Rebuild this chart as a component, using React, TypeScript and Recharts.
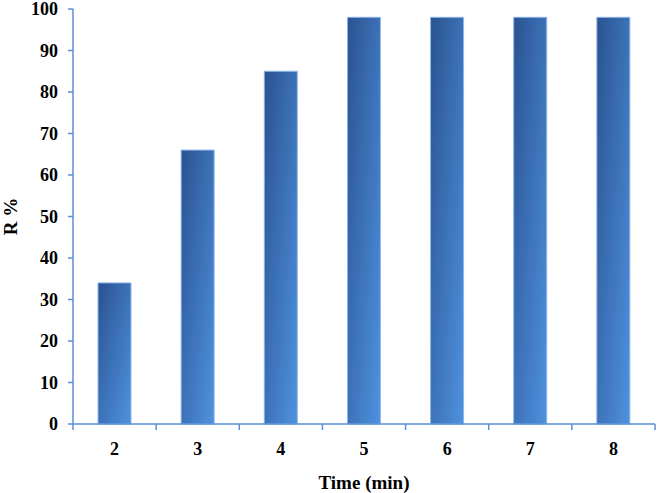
import { BarChart, Bar, XAxis, YAxis, Label } from "recharts";

const times = ["2", "3", "4", "5", "6", "7", "8"];
const removal = [34, 66, 85, 98, 98, 98, 98];
const yTicks = [0, 10, 20, 30, 40, 50, 60, 70, 80, 90, 100];

const data = times.map((t, i) => ({ time: t, r: removal[i] }));

const W = 658;
const H = 493;
const M = { top: 9, right: 3, left: 0, bottom: 0 };
const Y_W = 73;
const AXIS = "#5a8fd6";
const FONT = "'Liberation Serif', 'Times New Roman', serif";
const band = (W - M.left - M.right - Y_W) / times.length;

function TimeTick(props: any) {
  const { x, y, payload, index } = props;
  const last = index === times.length - 1;
  return (
    <g>
      <line x1={x - band / 2} x2={x - band / 2} y1={y - 8} y2={y - 2} stroke={AXIS} strokeWidth={1.5} />
      {last && (
        <line x1={x + band / 2} x2={x + band / 2} y1={y - 8} y2={y - 2} stroke={AXIS} strokeWidth={1.5} />
      )}
      <text x={x} y={y + 23} textAnchor="middle" fontFamily={FONT} fontWeight="bold" fontSize={18} fill="#000">
        {payload.value}
      </text>
    </g>
  );
}

export default function App() {
  return (
    <div style={{ position: "absolute", left: 0, top: 0, background: "#fff" }}>
      <BarChart width={W} height={H} data={data} margin={M} barCategoryGap={0}>
        <defs>
          <linearGradient id="barFill" x1="0" y1="0" x2="1" y2="1">
            <stop offset="0%" stopColor="#2a5290" />
            <stop offset="100%" stopColor="#4f92e0" />
          </linearGradient>
        </defs>
        <XAxis
          dataKey="time"
          height={69}
          axisLine={{ stroke: AXIS, strokeWidth: 1.5 }}
          tickLine={false}
          tick={<TimeTick />}
          interval={0}
        >
          <Label
            value="Time (min)"
            position="insideBottom"
            offset={4}
            style={{ fontFamily: FONT, fontWeight: "bold", fontSize: 19, fill: "#000" }}
          />
        </XAxis>
        <XAxis xAxisId="top" dataKey="time" orientation="top" height={0} tick={false} tickLine={false} axisLine={{ stroke: AXIS, strokeWidth: 1.5 }} />
        <YAxis
          width={Y_W}
          domain={[0, 100]}
          ticks={yTicks}
          interval={0}
          tickSize={5}
          tickMargin={10}
          axisLine={{ stroke: AXIS, strokeWidth: 1.5 }}
          tickLine={{ stroke: AXIS, strokeWidth: 1.5 }}
          tick={{ fontFamily: FONT, fontWeight: "bold", fontSize: 18, fill: "#000" }}
        >
          <Label
            value="R %"
            angle={-90}
            position="insideLeft"
            offset={10}
            style={{ textAnchor: "middle", fontFamily: FONT, fontWeight: "bold", fontSize: 19, fill: "#000" }}
          />
        </YAxis>
        <YAxis yAxisId="right" orientation="right" width={0} domain={[0, 100]} tick={false} tickLine={false} axisLine={{ stroke: AXIS, strokeWidth: 1.5 }} />
        <Bar dataKey="r" barSize={33} fill="url(#barFill)" stroke="#8db6ea" strokeWidth={1} isAnimationActive={false} />
      </BarChart>
    </div>
  );
}
